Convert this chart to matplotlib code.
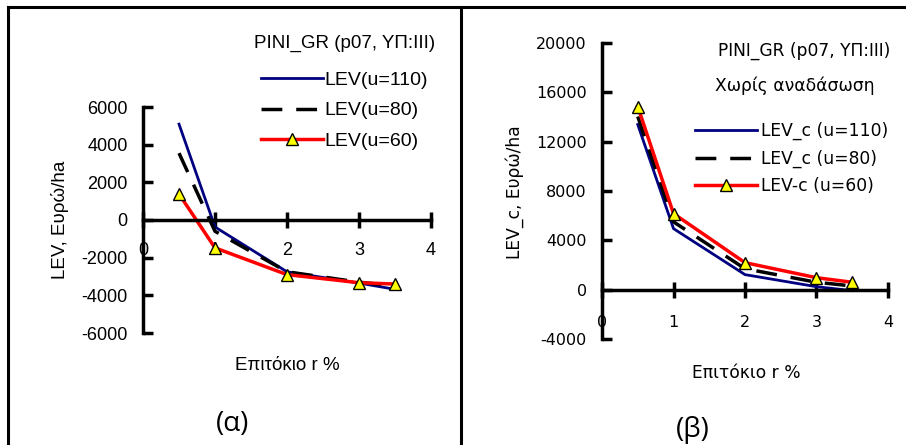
import matplotlib.pyplot as plt
from matplotlib.lines import Line2D

plt.rcParams['axes.unicode_minus'] = False

rate = [0.5, 1, 2, 3, 3.5]

# panel (a) LEV
lev_110 = [5090, -370, -2750, -3350, -3680]
lev_80 = [3550, -600, -2750, -3300, -3500]
lev_60 = [1380, -1480, -2900, -3330, -3400]

# panel (b) LEV_c, without reforestation
levc_110 = [13390, 4950, 1220, 240, -80]
levc_80 = [14040, 5500, 1700, 600, 300]
levc_60 = [14850, 6170, 2190, 970, 600]

W, H = 906, 445
fig = plt.figure(figsize=(W / 100, H / 100), dpi=100)


def box(x0, y0, x1, y1):
    # pixel box -> figure fraction
    return [x0 / W, 1 - y1 / H, (x1 - x0) / W, (y1 - y0) / H]


def style_axes(ax, font, fs, xpad, ypad):
    for s in ['top', 'right']:
        ax.spines[s].set_visible(False)
    ax.spines['left'].set_position(('data', 0))
    ax.spines['bottom'].set_position(('data', 0))
    ax.spines['left'].set_linewidth(2.5)
    ax.spines['bottom'].set_linewidth(2.5)
    ax.tick_params(axis='x', direction='inout', length=12, width=2.5, pad=xpad)
    ax.tick_params(axis='y', direction='in', length=7, width=2.5, pad=ypad)
    for lab in ax.get_xticklabels() + ax.get_yticklabels():
        lab.set_fontfamily(font)
        lab.set_fontsize(fs)
    ax.set_facecolor('none')


tri = dict(marker='^', markersize=8, markerfacecolor='#ffff00',
           markeredgecolor='black', markeredgewidth=1)
dash = (6, 4)

# ---- (a)
ax1 = fig.add_axes(box(143, 107, 431, 333))
ax1.plot(rate, lev_110, color='#000080', lw=2)
ax1.plot(rate, lev_80, color='black', lw=2.5, dashes=dash)
ax1.plot(rate, lev_60, color='#ff0000', lw=2.5, **tri)
ax1.set_xlim(0, 4)
ax1.set_ylim(-6000, 6000)
ax1.set_xticks([0, 1, 2, 3, 4])
ax1.set_yticks(range(-6000, 6001, 2000))
style_axes(ax1, 'Liberation Sans', 13, 10, 11)

fa = dict(family='Liberation Sans', fontsize=13.5)
fig.text(60 / W, 1 - 220 / H, 'LEV, Ευρώ/ha', rotation=90, ha='center', va='center', **fa)
fig.text(287 / W, 1 - 366 / H, 'Επιτόκιο r %', ha='center', va='center', **fa)
fig.text(435 / W, 1 - 43 / H, 'PINI_GR (p07, ΥΠ:ΙΙΙ)', ha='right', va='center', **fa)
ha = [Line2D([], [], color='#000080', lw=2),
      Line2D([], [], color='black', lw=2.5, dashes=dash),
      Line2D([], [], color='#ff0000', lw=2.5, **tri)]
fig.legend(ha, ['LEV(u=110)', 'LEV(u=80)', 'LEV(u=60)'],
           loc='upper left', bbox_to_anchor=(261 / W, 1 - 71 / H),
           frameon=False, prop={'family': 'Liberation Sans', 'size': 14},
           handlelength=3.2, handletextpad=0.05, labelspacing=0.68,
           borderpad=0, borderaxespad=0)

# ---- (b)
ax2 = fig.add_axes(box(602, 43, 888, 339))
ax2.plot(rate, levc_110, color='#000080', lw=2)
ax2.plot(rate, levc_80, color='black', lw=2.5, dashes=dash)
ax2.plot(rate, levc_60, color='#ff0000', lw=2.5, **tri)
ax2.set_xlim(0, 4)
ax2.set_ylim(-4000, 20000)
ax2.set_xticks([0, 1, 2, 3, 4])
ax2.set_yticks(range(-4000, 20001, 4000))
style_axes(ax2, 'DejaVu Sans', 11.5, 12, 11)

fb = dict(family='DejaVu Sans', fontsize=12.3)
fig.text(515 / W, 1 - 192 / H, 'LEV_c, Ευρώ/ha', rotation=90, ha='center', va='center', **fb)
fig.text(746 / W, 1 - 373 / H, 'Επιτόκιο r %', ha='center', va='center', **fb)
fig.text(890 / W, 1 - 51 / H, 'PINI_GR (p07, ΥΠ:ΙΙΙ)', ha='right', va='center', **fb)
fig.text(795 / W, 1 - 86 / H, 'Χωρίς αναδάσωση', ha='center', va='center', **fb)
hb = [Line2D([], [], color='#000080', lw=2),
      Line2D([], [], color='black', lw=2.5, dashes=dash),
      Line2D([], [], color='#ff0000', lw=2.5, **tri)]
fig.legend(hb, ['LEV_c (u=110)', 'LEV_c (u=80)', 'LEV-c (u=60)'],
           loc='upper left', bbox_to_anchor=(695 / W, 1 - 122 / H),
           frameon=False, prop={'family': 'DejaVu Sans', 'size': 12.3},
           handlelength=3.6, handletextpad=0.25, labelspacing=0.55,
           borderpad=0, borderaxespad=0)

# captions
fig.text(233 / W, 1 - 424 / H, '(α)', ha='center', va='center', family='Open Sans', fontsize=20)
fig.text(693 / W, 1 - 430 / H, '(β)', ha='center', va='center', family='Open Sans', fontsize=20)

# frame
for xs, ys in [([8, 906], [7, 7]), ([8, 8], [7, 445]), ([461, 461], [7, 445])]:
    fig.add_artist(Line2D([x / W for x in xs], [1 - y / H for y in ys],
                          color='black', lw=2.2, transform=fig.transFigure))

fig.savefig('out.png', dpi=100)
